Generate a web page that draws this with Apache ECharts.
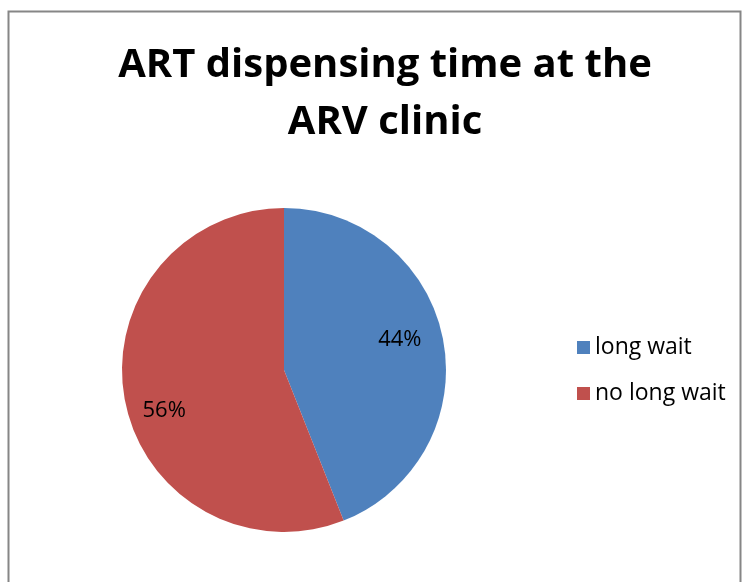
<!DOCTYPE html>
<html>
<head>
<meta charset="utf-8">
<script src="https://cdn.jsdelivr.net/npm/echarts@6/dist/echarts.min.js"></script>
<style>
  html, body { margin: 0; padding: 0; background: #fff; }
  #main { width: 744px; height: 582px; }
</style>
</head>
<body>
<div id="main"></div>
<script>
// 数据
const categories = ['long wait', 'no long wait'];
const shares = [44, 56]; // 百分比
const colors = ['#4F81BD', '#C0504D'];
const labelOffsets = [[-4, -7], [0, 18]]; // 标签微调

const pieData = categories.map(function (name, i) {
  return { name: name, value: shares[i], itemStyle: { color: colors[i] } };
});

var chart = echarts.init(document.getElementById('main'));

var option = {
  backgroundColor: '#fff',
  animation: false,
  textStyle: { fontFamily: 'Open Sans' },
  graphic: [
    {
      type: 'rect',
      shape: { x: 8.5, y: 11.5, width: 732, height: 600 },
      style: { fill: 'none', stroke: '#868686', lineWidth: 2 },
      silent: true
    }
  ],
  title: {
    text: 'ART dispensing time at the\nARV clinic',
    left: 380,
    textAlign: 'center',
    top: 32,
    textStyle: {
      fontFamily: 'Open Sans',
      fontSize: 40,
      fontWeight: 'bold',
      color: '#000',
      lineHeight: 57
    }
  },
  legend: {
    orient: 'vertical',
    left: 572,
    top: 331,
    itemWidth: 13,
    itemHeight: 13,
    itemGap: 23,
    icon: 'rect',
    data: categories,
    textStyle: { fontSize: 23, color: '#000', fontFamily: 'Open Sans' }
  },
  series: [
    {
      name: 'ART dispensing time',
      type: 'pie',
      center: [284, 370],
      radius: 162,
      startAngle: 90,
      clockwise: true,
      label: { show: false },
      labelLine: { show: false },
      data: pieData
    },
    {
      // 透明环，只用来放百分比标签
      name: 'labels',
      type: 'pie',
      center: [284, 370],
      radius: [76, 162],
      startAngle: 90,
      clockwise: true,
      silent: true,
      itemStyle: { color: 'rgba(0,0,0,0)' },
      label: {
        show: true,
        position: 'inside',
        formatter: '{c}%',
        fontSize: 22,
        color: '#000',
        fontFamily: 'Open Sans'
      },
      labelLine: { show: false },
      data: shares.map(function (v, i) {
        return { name: categories[i], value: v, label: { offset: labelOffsets[i] } };
      })
    }
  ]
};

chart.setOption(option);
</script>
</body>
</html>
